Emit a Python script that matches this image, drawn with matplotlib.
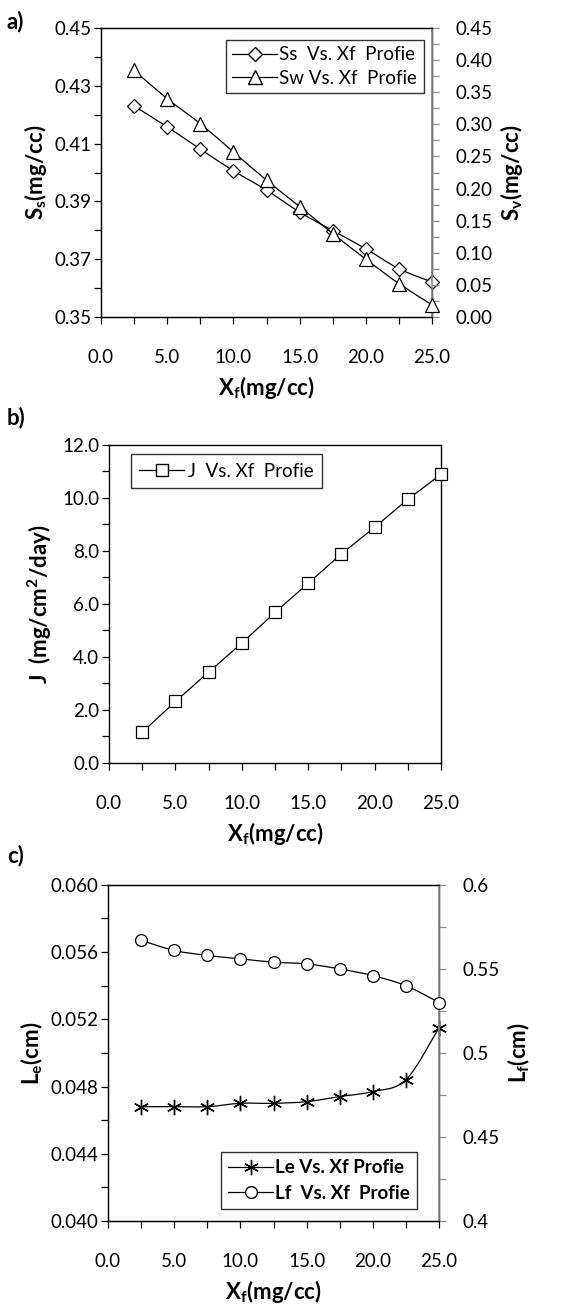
import numpy as np
import matplotlib.pyplot as plt
from matplotlib.path import Path
from matplotlib.patches import PathPatch
from matplotlib.lines import Line2D
from matplotlib.ticker import MultipleLocator, FixedLocator, FormatStrFormatter

plt.rcParams['font.family'] = ['Lato', 'DejaVu Sans']
plt.rcParams['mathtext.fontset'] = 'custom'
plt.rcParams['mathtext.rm'] = 'Lato'
plt.rcParams['mathtext.bf'] = 'Lato:bold'
plt.rcParams['mathtext.it'] = 'Lato:italic'

# feed concentration (mg/cc)
xf = [2.5, 5.0, 7.5, 10.0, 12.5, 15.0, 17.5, 20.0, 22.5, 25.0]

# a) Ss (left axis) and Sw (right axis)
ss = [0.4230, 0.4158, 0.4081, 0.4006, 0.3939, 0.3863, 0.3799, 0.3736, 0.3667, 0.3621]
sw = [0.384, 0.340, 0.301, 0.257, 0.213, 0.172, 0.130, 0.090, 0.052, 0.019]

# b) flux J
jflux = [1.16, 2.32, 3.43, 4.52, 5.68, 6.78, 7.89, 8.89, 9.95, 10.89]

# c) Le (left axis) and Lf (right axis)
le = [0.0468, 0.0468, 0.0468, 0.0470, 0.0470, 0.0471, 0.0474, 0.0477, 0.0484, 0.0515]
lf = [0.567, 0.561, 0.558, 0.556, 0.554, 0.553, 0.550, 0.546, 0.540, 0.530]

FS = 13.5
LFS = 13.5
AFS = 16
GRAY = '#8c8c8c'


def smooth_line(ax, x, y, lw=0.9):
    # catmull-rom style bezier through the points, like a spreadsheet smoothed line
    p = np.column_stack([x, y]).astype(float)
    verts = [p[0]]
    codes = [Path.MOVETO]
    n = len(p)
    for i in range(n - 1):
        p0 = p[i - 1] if i > 0 else p[i]
        p3 = p[i + 2] if i + 2 < n else p[i + 1]
        c1 = p[i] + (p[i + 1] - p0) / 6.0
        c2 = p[i + 1] - (p3 - p[i]) / 6.0
        verts += [c1, c2, p[i + 1]]
        codes += [Path.CURVE4] * 3
    ax.add_patch(PathPatch(Path(verts, codes), fc='none', ec='k', lw=lw, zorder=2))


def markers(ax, x, y, m, ms):
    ax.plot(x, y, ls='none', marker=m, ms=ms, mfc='white', mec='k', mew=0.9,
            zorder=3, clip_on=False)


def style_x(ax):
    ax.set_xlim(0, 25)
    ax.xaxis.set_major_locator(MultipleLocator(5))
    ax.xaxis.set_minor_locator(MultipleLocator(2.5))
    ax.xaxis.set_major_formatter(FormatStrFormatter('%.1f'))
    ax.tick_params(axis='x', which='both', direction='out', length=5, width=0.9,
                   pad=18, labelsize=FS)
    ax.set_xlabel(r'$\mathbf{X_f}$(mg/cc)', fontsize=AFS, fontweight='bold', labelpad=6)


def style_left(ax):
    ax.tick_params(axis='y', which='both', direction='out', length=5, width=0.9,
                   pad=2, labelsize=FS)
    for s in ax.spines.values():
        s.set_linewidth(1.0)


def style_right(ax2):
    ax2.tick_params(axis='y', which='both', direction='out', length=5, width=0.9,
                    color=GRAY, pad=12, labelsize=FS)
    ax2.spines['right'].set_color(GRAY)
    ax2.spines['right'].set_linewidth(1.2)


def box_legend(lg):
    lg.get_frame().set_edgecolor('k')
    lg.get_frame().set_linewidth(1.0)


fig = plt.figure(figsize=(5.72, 13.04), dpi=100)

# ---------------- a) ----------------
axa = fig.add_axes([0.1766, 0.7569, 0.5787, 0.2216])
axa2 = axa.twinx()
smooth_line(axa, xf, ss)
markers(axa, xf, ss, 'D', 7)
smooth_line(axa2, xf, sw)
markers(axa2, xf, sw, '^', 10)
axa.set_ylim(0.35, 0.45)
axa.yaxis.set_major_locator(FixedLocator([0.35, 0.37, 0.39, 0.41, 0.43, 0.45]))
axa.yaxis.set_minor_locator(MultipleLocator(0.01))
axa.yaxis.set_major_formatter(FormatStrFormatter('%.2f'))
axa2.set_ylim(0.0, 0.45)
axa2.yaxis.set_major_locator(MultipleLocator(0.05))
axa2.yaxis.set_minor_locator(MultipleLocator(0.025))
axa2.yaxis.set_major_formatter(FormatStrFormatter('%.2f'))
style_x(axa)
style_left(axa)
style_right(axa2)
axa.set_ylabel(r'$\mathbf{S_s}$(mg/cc)', fontsize=AFS, fontweight='bold', labelpad=4)
axa2.set_ylabel(r'$\mathbf{S_v}$(mg/cc)', fontsize=AFS, fontweight='bold', labelpad=4)
ha = [Line2D([], [], color='k', lw=0.9, marker='D', ms=7, mfc='white', mec='k'),
      Line2D([], [], color='k', lw=0.9, marker='^', ms=10, mfc='white', mec='k')]
lga = axa2.legend(ha, ['Ss  Vs. Xf  Profie', 'Sw Vs. Xf  Profie'], loc='upper right',
                  bbox_to_anchor=(0.975, 0.96), fontsize=LFS, frameon=True, fancybox=False,
                  handlelength=2.4, handletextpad=0.1, borderpad=0.35, labelspacing=0.35,
                  borderaxespad=0)
box_legend(lga)
fig.text(0.012, 0.992, 'a)', fontsize=16, fontweight='bold', va='top')

# ---------------- b) ----------------
axb = fig.add_axes([0.1906, 0.4149, 0.5804, 0.2439])
axb.plot(xf, jflux, color='k', lw=0.9, zorder=2)
markers(axb, xf, jflux, 's', 8.5)
axb.set_ylim(0, 12)
axb.yaxis.set_major_locator(MultipleLocator(2))
axb.yaxis.set_minor_locator(MultipleLocator(1))
axb.yaxis.set_major_formatter(FormatStrFormatter('%.1f'))
style_x(axb)
style_left(axb)
axb.set_ylabel(r'J  (mg/cm$\mathbf{^2}$/day)', fontsize=AFS, fontweight='bold', labelpad=6)
hb = [Line2D([], [], color='k', lw=0.9, marker='s', ms=8.5, mfc='white', mec='k')]
lgb = axb.legend(hb, ['J  Vs. Xf  Profie'], loc='upper left', bbox_to_anchor=(0.065, 0.97),
                 fontsize=LFS, frameon=True, fancybox=False, handlelength=2.4,
                 handletextpad=0.2, borderpad=0.45, borderaxespad=0)
box_legend(lgb)
fig.text(0.012, 0.688, 'b)', fontsize=16, fontweight='bold', va='top')

# ---------------- c) ----------------
axc = fig.add_axes([0.1888, 0.0637, 0.5787, 0.2577])
axc2 = axc.twinx()
smooth_line(axc, xf, le)
axc.plot(xf, le, ls='none', marker=(6, 2, 0), ms=11, mec='k', mew=1.0, zorder=3,
         clip_on=False)
smooth_line(axc2, xf, lf)
markers(axc2, xf, lf, 'o', 8.5)
axc.set_ylim(0.040, 0.060)
axc.yaxis.set_major_locator(MultipleLocator(0.004))
axc.yaxis.set_minor_locator(MultipleLocator(0.002))
axc.yaxis.set_major_formatter(FormatStrFormatter('%.3f'))
axc2.set_ylim(0.4, 0.6)
axc2.set_yticks([0.4, 0.45, 0.5, 0.55, 0.6])
axc2.set_yticklabels(['0.4', '0.45', '0.5', '0.55', '0.6'])
axc2.yaxis.set_minor_locator(MultipleLocator(0.025))
style_x(axc)
style_left(axc)
style_right(axc2)
axc.set_ylabel(r'$\mathbf{L_e}$(cm)', fontsize=AFS, fontweight='bold', labelpad=4)
axc2.set_ylabel(r'$\mathbf{L_f}$(cm)', fontsize=AFS, fontweight='bold', labelpad=4)
hc = [Line2D([], [], color='k', lw=0.9, marker=(6, 2, 0), ms=11, mec='k'),
      Line2D([], [], color='k', lw=0.9, marker='o', ms=8.5, mfc='white', mec='k')]
lgc = axc2.legend(hc, ['Le Vs. Xf Profie', 'Lf  Vs. Xf  Profie'], loc='lower right',
                  bbox_to_anchor=(0.935, 0.035), prop={'size': LFS, 'weight': 'bold'},
                  frameon=True, fancybox=False, handlelength=2.4, handletextpad=0.1,
                  borderpad=0.4, labelspacing=0.45, borderaxespad=0)
box_legend(lgc)
fig.text(0.012, 0.352, 'c)', fontsize=16, fontweight='bold', va='top')

fig.savefig('out.png', dpi=100)
